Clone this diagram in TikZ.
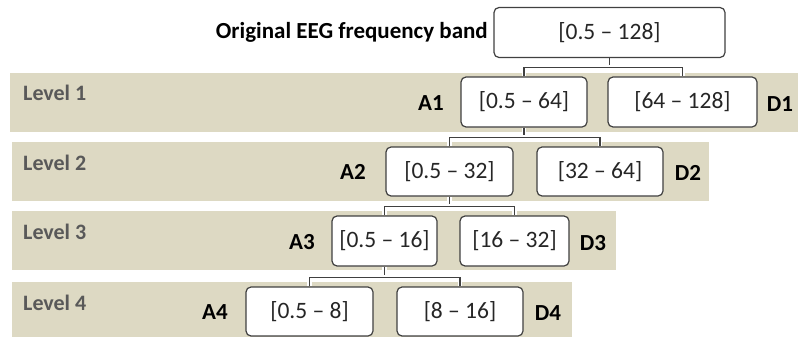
\documentclass[tikz,border=0pt]{standalone}
\usepackage{fontspec}
\setmainfont{Carlito}
\usetikzlibrary{calc}
\pgfdeclarelayer{bands}
\pgfdeclarelayer{links}
\pgfsetlayers{bands,links,main}
\definecolor{bandcol}{RGB}{221,217,195}
\definecolor{edgecol}{RGB}{64,64,64}
\definecolor{boxtext}{RGB}{38,38,38}
\definecolor{levcol}{RGB}{89,89,89}
\tikzset{
  band/.style={fill=bandcol, draw=none},
  bandbox/.style={draw=edgecol, line width=1.2pt, fill=white, rounded corners=5pt,
    minimum height=49pt, inner sep=0pt, text=boxtext, font=\fontsize{23.5}{27}\selectfont},
  conn/.style={draw=edgecol, line width=1.1pt, preaction={draw=white, line width=4.5pt}},
  lab/.style={font=\fontsize{23}{27}\selectfont\bfseries, text=black, inner sep=0pt},
  levlab/.style={font=\fontsize{22}{26}\selectfont\bfseries, text=levcol, inner sep=0pt, anchor=west}
}
\begin{document}
\begin{tikzpicture}[x=1pt,y=-1pt]
\useasboundingbox (0,0) rectangle (798,337);
% bands
\begin{pgfonlayer}{bands}
\fill[band] (10,73) rectangle (798,132);
\fill[band] (12,142) rectangle (709,201);
\fill[band] (12,211) rectangle (616,270);
\fill[band] (12,282) rectangle (572,337);
\end{pgfonlayer}
% boxes
\node[bandbox, minimum width=231pt, minimum height=50pt] (top) at (609.5,32.5) {[0.5 – 128]};
\node[bandbox, minimum width=126pt, minimum height=50pt] (A1) at (524,102) {[0.5 – 64]};
\node[bandbox, minimum width=149pt, minimum height=50pt] (D1) at (682.5,102) {[64 – 128]};
\node[bandbox, minimum width=127pt] (A2) at (449.5,171.5) {[0.5 – 32]};
\node[bandbox, minimum width=126pt] (D2) at (600,171.5) {[32 – 64]};
\node[bandbox, minimum width=105pt, minimum height=50pt] (A3) at (384.5,241) {[0.5 – 16]};
\node[bandbox, minimum width=109pt, minimum height=50pt] (D3) at (514.5,241) {[16 – 32]};
\node[bandbox, minimum width=127pt] (A4) at (309.5,311.5) {[0.5 – 8]};
\node[bandbox, minimum width=126pt] (D4) at (460,311.5) {[8 – 16]};
% labels
\node[lab, anchor=east] (orig) at (488,32) {Original EEG frequency band};
\node[lab] (la1) at (431,103) {A1};
\node[lab] (ld1) at (780,104) {D1};
\node[lab] (la2) at (353,172) {A2};
\node[lab] (ld2) at (688,173) {D2};
\node[lab] (la3) at (302,242) {A3};
\node[lab] (ld3) at (593,243) {D3};
\node[lab] (la4) at (215,312) {A4};
\node[lab] (ld4) at (548,313) {D4};
\node[levlab] (lev1) at (23,93) {Level 1};
\node[levlab] (lev2) at (23,163) {Level 2};
\node[levlab] (lev3) at (23,232) {Level 3};
\node[levlab] (lev4) at (23,303) {Level 4};
% connectors
\coordinate (m1) at ($(top.south)+(0,9.5)$);
\coordinate (m2) at ($(A1.south)+(0,10)$);
\coordinate (m3) at ($(A2.south)+(0,10)$);
\coordinate (m4) at ($(A3.south)+(0,10.5)$);
\begin{pgfonlayer}{links}
\draw[conn] (top.south) -- (m1);
\draw[conn] (A1.north) |- (m1) -| (D1.north);
\draw[conn] (A1.south) -- (m2);
\draw[conn] (A2.north) |- (m2) -| (D2.north);
\draw[conn] (A2.south) -- (m3);
\draw[conn] (A3.north) |- (m3) -| (D3.north);
\draw[conn] (A3.south) -- (m4);
\draw[conn] (A4.north) |- (m4) -| (D4.north);
\end{pgfonlayer}
\end{tikzpicture}
\end{document}
